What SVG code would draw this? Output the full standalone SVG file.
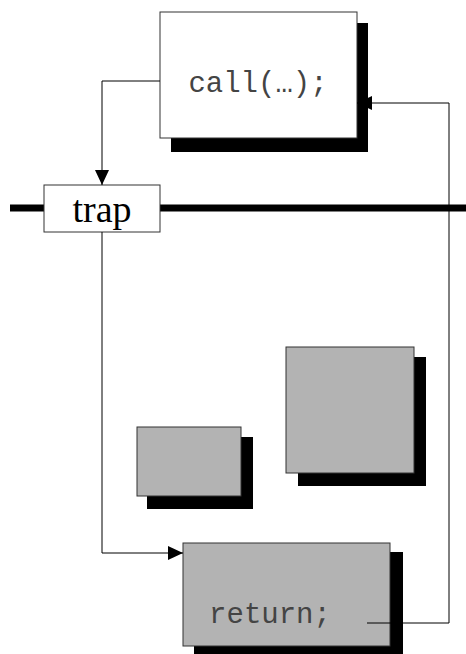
<svg xmlns="http://www.w3.org/2000/svg" width="466" height="654" viewBox="0 0 466 654">
<style>
.box{stroke:#333;stroke-width:1}
.white{fill:#fff}
.gray{fill:#b3b3b3}
.shadow{fill:#000}
.conn{fill:none;stroke:#000;stroke-width:1}
.mono{font-family:"Liberation Mono","Courier New",monospace;font-size:29px;fill:#444}
.serif{font-family:"Liberation Serif","Times New Roman",serif;font-size:38px;fill:#000}
</style>
<defs>
<marker id="arr" markerWidth="15" markerHeight="14" refX="15" refY="7" orient="auto" markerUnits="userSpaceOnUse">
<path d="M0,0 L15,7 L0,14 Z" fill="#000"/>
</marker>
</defs>
<rect width="466" height="654" fill="#fff"/>
<line x1="10" y1="208" x2="466" y2="208" stroke="#000" stroke-width="7"/>
<g id="call">
<rect class="shadow" x="171" y="23" width="197" height="129"/>
<rect class="box white" x="160" y="12" width="197" height="126"/>
<text class="mono" x="258" y="92" text-anchor="middle">call(…);</text>
</g>
<g id="trap">
<rect class="box white" x="44" y="185" width="116" height="47"/>
<text class="serif" x="102" y="222" text-anchor="middle">trap</text>
</g>
<g id="block1">
<rect class="shadow" x="147" y="437" width="106" height="72"/>
<rect class="box gray" x="137" y="427" width="104" height="69"/>
</g>
<g id="block2">
<rect class="shadow" x="298" y="357" width="128" height="129"/>
<rect class="box gray" x="286" y="347" width="128" height="126"/>
</g>
<g id="return">
<rect class="shadow" x="194" y="552" width="209" height="102"/>
<rect class="box gray" x="183" y="543" width="207" height="103"/>
<text class="mono" x="270" y="623" text-anchor="middle">return;</text>
</g>
<g id="connectors">
<polyline class="conn" points="160,81 102,81 102,185" marker-end="url(#arr)"/>
<polyline class="conn" points="102,232 102,553 183,553" marker-end="url(#arr)"/>
<polyline class="conn" points="367,623 449,623 449,103 357,103" marker-end="url(#arr)"/>
</g>
</svg>
